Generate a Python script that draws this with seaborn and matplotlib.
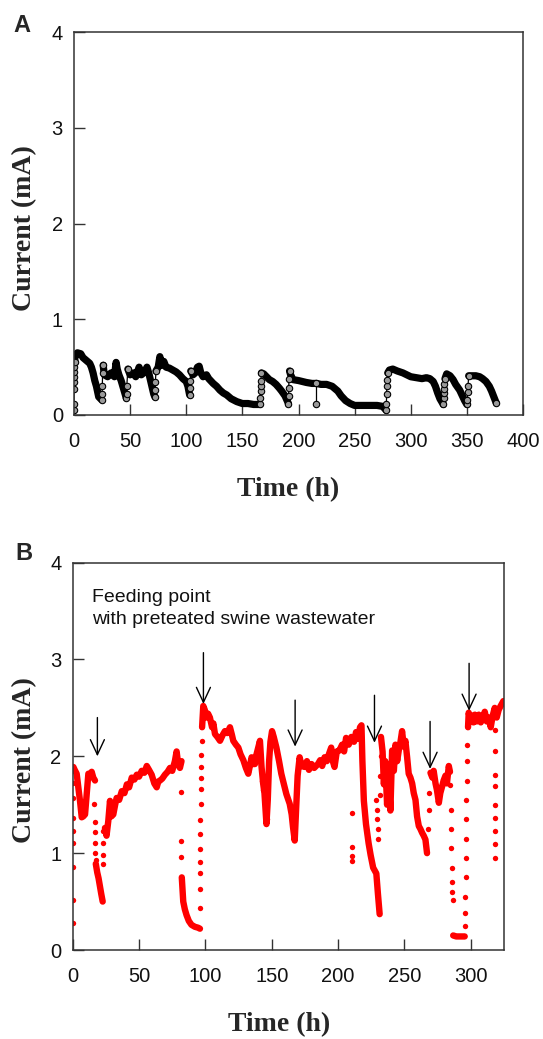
import numpy as np
import pandas as pd
import matplotlib
matplotlib.use("Agg")
import matplotlib.pyplot as plt
import seaborn as sns

# ---------------- Panel A data ----------------
a_time = [0.5, 1, 3, 6, 8, 11, 14, 15.5, 17, 18.5, 20, 22, 24.5,
          26, 27, 30, 33, 36, 37.5, 38.5, 40, 42, 44, 46.5,
          48, 50, 53, 55, 58, 60, 63, 65, 67, 69, 71, 72,
          73, 75, 76.5, 78, 80, 82, 85, 88, 91, 94, 97, 100, 101.5, 103,
          104, 106, 108, 110, 111.5, 113, 115, 118, 120, 124, 127, 130, 133, 136, 140, 145, 150, 155, 160, 165.5,
          167, 169, 171.5, 174, 177, 180, 183, 185, 188, 191,
          192, 193, 195, 200, 207, 212, 216, 220, 225, 230, 235, 238, 242, 246, 250, 255, 260, 265, 270, 275, 278,
          279.5, 281, 284, 288, 293, 300, 305, 310, 314, 317, 320, 322, 324, 326, 329,
          330.5, 332, 335, 337.7, 340, 343.6, 346, 348, 350,
          351.6, 355, 358, 361.4, 364, 367, 370, 372, 374, 376]
a_current = [0.55, 0.62, 0.65, 0.64, 0.60, 0.57, 0.54, 0.50, 0.44, 0.36, 0.30, 0.19, 0.16,
             0.52, 0.42, 0.40, 0.44, 0.40, 0.55, 0.48, 0.42, 0.36, 0.28, 0.18,
             0.48, 0.42, 0.44, 0.40, 0.50, 0.42, 0.45, 0.50, 0.42, 0.32, 0.22, 0.19,
             0.46, 0.50, 0.61, 0.52, 0.56, 0.50, 0.49, 0.47, 0.45, 0.42, 0.38, 0.35, 0.30, 0.21,
             0.46, 0.42, 0.44, 0.50, 0.51, 0.44, 0.40, 0.42, 0.38, 0.33, 0.30, 0.26, 0.23, 0.21, 0.17, 0.14, 0.12, 0.12, 0.11, 0.11,
             0.44, 0.43, 0.40, 0.37, 0.35, 0.32, 0.28, 0.25, 0.20, 0.12,
             0.46, 0.42, 0.37, 0.36, 0.34, 0.33, 0.33, 0.32, 0.32, 0.30, 0.25, 0.20, 0.15, 0.12, 0.10, 0.10, 0.10, 0.10, 0.10, 0.09, 0.05,
             0.44, 0.47, 0.48, 0.46, 0.44, 0.40, 0.39, 0.38, 0.39, 0.38, 0.35, 0.30, 0.23, 0.17, 0.11,
             0.38, 0.43, 0.41, 0.37, 0.32, 0.26, 0.20, 0.15, 0.11,
             0.41, 0.41, 0.41, 0.40, 0.38, 0.35, 0.30, 0.25, 0.19, 0.13]
# feeding times that split the band into separate cycles
a_feed_breaks = [25.5, 47.5, 72.5, 103.5, 166.5, 191.5, 279, 330, 351]

# sampled points at the feeding transitions (open circles)
a_rise_time = [0, 0, 0, 0, 0, 0, 0, 0.5,
               24.5, 25, 25.2, 25.5, 26,
               46.5, 47, 47, 48,
               72, 72.5, 72.5, 73,
               103, 103.5, 103.5, 104,
               165.5, 166, 166.2, 166.4, 166.5, 167,
               191, 191.2, 191.3, 191.5, 192,
               216, 216,
               278, 278.3, 278.5, 278.7, 279, 279.5,
               329, 329.5, 329.5, 329.7, 330, 330.5,
               350, 350.5, 350.6, 351, 351.6,
               376]
a_rise_current = [0.05, 0.12, 0.27, 0.35, 0.40, 0.45, 0.50, 0.55,
                  0.16, 0.22, 0.30, 0.44, 0.52,
                  0.18, 0.22, 0.30, 0.48,
                  0.19, 0.26, 0.34, 0.46,
                  0.21, 0.28, 0.36, 0.46,
                  0.11, 0.18, 0.25, 0.30, 0.36, 0.44,
                  0.12, 0.20, 0.28, 0.38, 0.46,
                  0.33, 0.12,
                  0.05, 0.12, 0.22, 0.30, 0.37, 0.44,
                  0.11, 0.18, 0.23, 0.27, 0.32, 0.38,
                  0.11, 0.16, 0.24, 0.30, 0.41,
                  0.13]
a_rise_id = [0]*8 + [1]*5 + [2]*4 + [3]*4 + [4]*4 + [5]*6 + [6]*5 + [7]*2 + [8]*6 + [9]*6 + [10]*5 + [11]

# ---------------- Panel B data ----------------
# dense stretches of samples: (time h, current mA)
b_band = [
    (0.5, 1.89), (1.5, 1.86), (3, 1.82), (4.5, 1.65), (5.5, 1.54), (6.8, 1.37), (8, 1.38), (9.3, 1.40),
    (10.5, 1.60), (11.8, 1.82), (13, 1.80), (14.3, 1.84), (15.5, 1.78), (16.8, 1.75),
    (17.4, 0.89), (18.5, 0.80), (19.5, 0.74), (20.5, 0.66), (21.5, 0.58), (22.6, 0.50),
    (24.3, 1.26), (25.5, 1.18), (26.8, 1.33), (28.1, 1.54), (29.2, 1.38), (30.6, 1.40), (32, 1.50),
    (33.1, 1.57), (35, 1.55), (37, 1.64), (39, 1.62), (40.8, 1.71), (42.5, 1.68), (44.5, 1.78),
    (46.5, 1.76), (48.3, 1.81), (50, 1.79), (52, 1.85), (54, 1.83), (55.8, 1.90), (57.5, 1.86),
    (59.5, 1.81), (61.5, 1.72), (63.3, 1.68), (64.5, 1.74), (65.8, 1.75), (67.5, 1.77), (69.5, 1.81),
    (71.5, 1.84), (73.3, 1.88), (75, 1.85), (77, 1.95), (78.3, 2.05), (79.5, 1.92), (80.8, 1.88), (82, 1.95),
    (82.2, 0.75), (83.3, 0.50), (84.5, 0.42), (85.8, 0.36), (87.5, 0.30), (89.5, 0.26), (92, 0.24),
    (94.5, 0.23), (95.9, 0.22),
    (97.5, 2.30), (98.4, 2.52), (99.5, 2.48), (101, 2.40), (102, 2.44), (103.4, 2.40), (105, 2.30),
    (106, 2.34), (107.2, 2.23), (109, 2.20), (111, 2.16), (113, 2.22), (114.7, 2.26), (116.5, 2.24),
    (118.5, 2.30), (120, 2.22), (121, 2.16), (123, 2.12), (124.8, 2.09), (126.5, 2.02), (128.6, 1.96),
    (130.5, 1.88), (132.3, 1.82), (133.5, 1.90), (134.8, 1.99), (136, 1.92), (137.3, 1.92), (138.5, 2.02),
    (139.8, 2.09), (141.1, 2.16), (142.3, 1.89), (143.5, 1.72), (144.5, 1.62), (145.3, 1.45), (146, 1.30),
    (147, 1.55), (148, 1.95), (149, 2.15), (150.2, 2.26), (151.5, 2.20), (153.5, 2.09), (155.5, 1.95),
    (157.2, 1.82), (159, 1.72), (161, 1.61), (163.5, 1.51), (165, 1.40), (166, 1.27), (167.3, 1.13),
    (168.5, 1.50), (169.5, 1.80), (171, 1.99), (172.5, 1.90), (174.8, 1.89), (176.5, 1.95), (178, 1.86),
    (180, 1.92), (182, 1.88), (184.8, 1.92), (186.5, 1.96), (188, 1.90), (189.8, 1.99), (191.5, 1.95),
    (193, 2.02), (194.8, 2.09), (196, 1.95), (197.3, 1.89), (199, 2.05), (201, 2.06), (203, 2.12),
    (204.5, 2.05), (206, 2.19), (208, 2.12), (210, 2.20), (212, 2.15), (213.5, 2.25), (215, 2.18),
    (216.5, 2.30), (217.6, 2.32), (218.3, 1.95), (219.4, 1.54), (221, 1.30), (223, 1.10), (224.5, 0.98),
    (226.4, 0.85), (228.8, 0.79), (230, 0.58), (231.3, 0.37),
    (232.3, 2.20), (233.5, 2.05), (234.5, 1.71), (235.5, 1.95), (236.9, 1.50), (238, 1.80), (239.4, 1.44),
    (240.7, 2.06), (242, 1.85), (243.2, 2.12), (244.5, 1.95), (245.7, 2.06), (247, 2.15), (248.2, 2.26),
    (249.5, 2.10), (250.7, 2.16), (252, 1.99), (253.2, 1.82), (254.5, 1.78), (255.8, 1.72), (257, 1.62),
    (258.3, 1.55), (259.5, 1.38), (260.8, 1.28), (262, 1.25), (263.3, 1.21), (264.5, 1.18), (265.8, 1.14),
    (267, 1.00),
    (269.6, 1.83), (271, 1.78), (272, 1.85), (273.4, 1.72), (274.5, 1.65), (275.9, 1.52), (277, 1.62),
    (278.4, 1.69), (279.5, 1.75), (280.9, 1.80), (282, 1.72), (283.4, 1.90), (284.3, 1.84),
    (286.7, 0.15), (289, 0.14), (292, 0.14), (295.4, 0.14),
    (297.9, 2.30), (298.4, 2.45), (299.5, 2.38), (300.5, 2.42), (302, 2.35), (303, 2.43), (304.5, 2.36),
    (306, 2.43), (307.5, 2.35), (309, 2.40), (310.5, 2.46), (312, 2.36), (313.5, 2.40), (315, 2.30),
    (316.5, 2.42), (318, 2.50), (319.5, 2.40), (321, 2.48), (322.5, 2.52), (324.5, 2.57),
]
# gaps between the dense stretches (feeding / disturbance events)
b_gap_breaks = [17, 23, 82.1, 97, 232, 269.3, 286.5, 297.5]

# isolated samples during steep rises / drops: (time h, current mA)
b_dots = [
    (0, 0.28), (0, 0.52), (0, 0.86), (0, 1.10), (0, 1.23), (0, 1.36), (0, 1.57), (0, 1.72),
    (16.3, 1.51), (16.6, 1.32), (16.8, 1.22), (17, 1.10), (17.1, 1.00), (17.2, 0.93),
    (23.1, 1.23), (23.1, 1.10), (23.1, 0.98), (23.1, 0.89),
    (81.6, 1.63), (81.8, 1.13), (81.9, 0.96),
    (96.0, 0.43), (96.0, 0.63), (96.0, 0.79), (96.1, 0.91), (96.1, 1.04), (96.2, 1.20), (96.3, 1.34),
    (96.4, 1.51), (96.5, 1.66), (96.6, 1.78), (96.7, 1.89), (96.9, 2.01), (97.2, 2.16),
    (142.8, 1.75), (143.2, 1.65), (145.8, 1.40), (146.2, 1.35),
    (210.8, 1.41), (210.8, 1.06), (210.8, 0.97), (210.8, 0.92),
    (228.5, 1.55), (229, 1.45), (229.4, 1.35), (229.8, 1.25), (230.3, 1.15), (231.6, 1.60),
    (231.8, 1.80), (232, 2.00),
    (268, 1.25), (268.4, 1.45), (268.8, 1.62),
    (284.6, 1.70), (285, 1.45), (285.2, 1.25), (285.4, 1.05), (285.7, 0.85), (285.9, 0.70),
    (286.1, 0.60), (286.3, 0.52),
    (295.6, 0.25), (295.7, 0.38), (295.8, 0.55), (296, 0.75), (296.1, 0.95), (296.3, 1.15),
    (296.5, 1.35), (296.7, 1.55), (296.9, 1.75), (297.1, 1.95), (297.4, 2.12),
    (318, 2.27), (318, 2.05), (318.1, 1.81), (318.1, 1.69), (318.2, 1.50), (318.2, 1.36),
    (318.3, 1.23), (318.3, 1.09), (318.4, 0.95),
]

# feeding arrows: time, tail current, head current
arrow_time = [18.6, 98.5, 167.6, 227.4, 269.3, 298.7]
arrow_tail = [2.40, 3.07, 2.58, 2.63, 2.36, 2.96]
arrow_head = [2.00, 2.54, 2.10, 2.14, 1.87, 2.47]

note_text = "Feeding point\nwith preteated swine wastewater"
xticks_a = [0, 50, 100, 150, 200, 250, 300, 350, 400]
xticks_b = [0, 50, 100, 150, 200, 250, 300]
yticks = [0, 1, 2, 3, 4]

# ---------------- Figure ----------------
sns.set_theme(style="white")
plt.rcParams["font.family"] = ["Liberation Sans", "DejaVu Sans"]

W, H = 543, 1039
fig = plt.figure(figsize=(W / 100, H / 100), dpi=100)
axA = fig.add_axes([74 / W, 1 - 415 / H, (523 - 74) / W, (415 - 32.3) / H])
axB = fig.add_axes([72.7 / W, 1 - 950 / H, (504 - 72.7) / W, (950 - 562.6) / H])

dfA = pd.DataFrame({"t": a_time, "i": a_current})
dfA["seg"] = np.searchsorted(a_feed_breaks, dfA["t"])
dfAr = pd.DataFrame({"t": a_rise_time, "i": a_rise_current, "rid": a_rise_id})
dfB = pd.DataFrame(b_band, columns=["t", "i"])
dfB["seg"] = np.searchsorted(b_gap_breaks, dfB["t"])
dfBd = pd.DataFrame(b_dots, columns=["t", "i"])

# Panel A
sns.lineplot(data=dfA, x="t", y="i", units="seg", estimator=None, sort=False,
             color="black", lw=5.2, ax=axA, legend=False, solid_capstyle="round")
sns.lineplot(data=dfAr, x="t", y="i", units="rid", estimator=None, sort=False,
             color="black", lw=0.9, marker="o", markersize=4.6,
             markerfacecolor="#9a9a9a", markeredgecolor="black", markeredgewidth=0.8,
             ax=axA, legend=False)

# Panel B
sns.lineplot(data=dfB, x="t", y="i", units="seg", estimator=None, sort=False,
             color="#ff0000", lw=4.6, ax=axB, legend=False, solid_capstyle="round")
sns.scatterplot(data=dfBd, x="t", y="i", color="#ff0000", s=15, linewidth=0,
                ax=axB, legend=False)

for t, y0, y1 in zip(arrow_time, arrow_tail, arrow_head):
    axB.annotate("", xy=(t, y1), xytext=(t, y0),
                 arrowprops=dict(arrowstyle="->,head_length=0.9,head_width=0.42",
                                 mutation_scale=12, lw=1.0, color="black",
                                 shrinkA=0, shrinkB=0))
axB.text(14.5, 3.73, note_text, ha="left", va="top", fontsize=14,
         linespacing=1.4, color="#111111")

for ax, xl, xt in ((axA, 400, xticks_a), (axB, 325, xticks_b)):
    ax.set_xlim(0, xl)
    ax.set_ylim(0, 4)
    ax.set_xticks(xt)
    ax.set_yticks(yticks)
    ax.set_xticklabels([str(v) for v in xt])
    ax.set_yticklabels([str(v) for v in yticks])
    ax.set_xlabel("")
    ax.set_ylabel("")
    for sp in ax.spines.values():
        sp.set_color("#333333")
        sp.set_linewidth(1.1)
        sp.set_visible(True)
    ax.tick_params(axis="both", direction="in", length=8, width=1.0,
                   color="#333333", labelsize=14.5, labelcolor="#111111",
                   top=False, right=False, bottom=True, left=True)
    ax.tick_params(axis="x", pad=12)
    ax.tick_params(axis="y", pad=8)
    ax.set_facecolor("white")

lab = dict(family=["Liberation Serif", "DejaVu Serif"], fontweight="bold", fontsize=20)
fig.text(25 / W, 1 - 228 / H, "Current (mA)", rotation=90, ha="center", va="center", **lab)
fig.text(25 / W, 1 - 760 / H, "Current (mA)", rotation=90, ha="center", va="center", **lab)
fig.text(288 / W, 1 - 490 / H, "Time (h)", ha="center", va="center", **lab)
fig.text(279 / W, 1 - 1025 / H, "Time (h)", ha="center", va="center", **lab)

fig.text(22 / W, 1 - 25 / H, "A", ha="center", va="center", fontsize=17, fontweight="bold")
fig.text(24 / W, 1 - 554 / H, "B", ha="center", va="center", fontsize=17, fontweight="bold")

fig.savefig("out.png", dpi=100, facecolor="white")
